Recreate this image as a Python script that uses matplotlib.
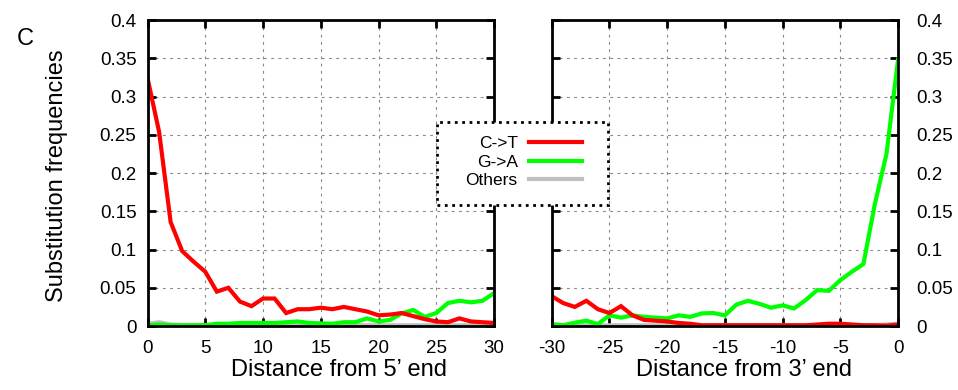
import matplotlib.pyplot as plt
from matplotlib.lines import Line2D
from matplotlib.patches import Rectangle

plt.rcParams['font.family'] = ['Liberation Sans', 'DejaVu Sans']
plt.rcParams['axes.unicode_minus'] = False

# posiciones desde el extremo 5' y 3'
pos5 = list(range(0, 31))
pos3 = list(range(-30, 1))

# frecuencias en el extremo 5'
ct_5 = [0.324, 0.254, 0.136, 0.098, 0.084, 0.071, 0.045, 0.050, 0.032, 0.026,
        0.036, 0.036, 0.017, 0.022, 0.022, 0.024, 0.022, 0.025, 0.022, 0.019,
        0.014, 0.015, 0.017, 0.013, 0.009, 0.006, 0.005, 0.010, 0.006, 0.005,
        0.004]
ga_5 = [0.001, 0.002, 0.001, 0.001, 0.001, 0.001, 0.003, 0.003, 0.004, 0.004,
        0.004, 0.004, 0.005, 0.006, 0.004, 0.0035, 0.003, 0.005, 0.005, 0.010,
        0.006, 0.008, 0.0165, 0.021, 0.012, 0.017, 0.030, 0.033, 0.031, 0.033,
        0.043]
ot_5 = [0.003, 0.005, 0.002, 0.001, 0.001, 0.001, 0.001, 0.001, 0.001, 0.001,
        0.001, 0.001, 0.001, 0.001, 0.001, 0.001, 0.001, 0.001, 0.001, 0.001,
        0.001, 0.001, 0.001, 0.001, 0.001, 0.001, 0.001, 0.001, 0.001, 0.001,
        0.001]

# frecuencias en el extremo 3'
ct_3 = [0.039, 0.030, 0.025, 0.033, 0.022, 0.017, 0.026, 0.014, 0.008, 0.007,
        0.006, 0.004, 0.003, 0.001, 0.001, 0.001, 0.001, 0.001, 0.001, 0.001,
        0.001, 0.001, 0.001, 0.002, 0.003, 0.003, 0.002, 0.001, 0.001, 0.0005,
        0.002]
ga_3 = [0.0026, 0.001, 0.0044, 0.007, 0.0026, 0.014, 0.011, 0.014, 0.012, 0.011,
        0.010, 0.014, 0.012, 0.0165, 0.017, 0.014, 0.028, 0.033, 0.029, 0.024,
        0.027, 0.023, 0.034, 0.047, 0.046, 0.060, 0.071, 0.081, 0.160, 0.225,
        0.348]
ot_3 = [0.001, 0.001, 0.001, 0.001, 0.001, 0.001, 0.001, 0.001, 0.001, 0.001,
        0.001, 0.001, 0.001, 0.001, 0.001, 0.001, 0.001, 0.001, 0.001, 0.001,
        0.001, 0.001, 0.001, 0.001, 0.001, 0.001, 0.001, 0.001, 0.001, 0.002,
        0.003]

etiquetas = ['C->T', 'G->A', 'Others']
colores = ['#ff0000', '#00ff00', '#c0c0c0']

fig = plt.figure(figsize=(9.58, 3.9), dpi=100)
ax1 = fig.add_axes([0.154, 0.164, 0.3617, 0.7846])
ax2 = fig.add_axes([0.5759, 0.164, 0.3615, 0.7846])

for ax, x, series in [(ax1, pos5, [ct_5, ga_5, ot_5]),
                      (ax2, pos3, [ct_3, ga_3, ot_3])]:
    for y, c in zip(series[::-1], colores[::-1]):
        ax.plot(x, y, color=c, lw=3, solid_joinstyle='miter')
    ax.set_ylim(0, 0.4)
    ax.set_yticks([0, 0.05, 0.1, 0.15, 0.2, 0.25, 0.3, 0.35, 0.4])
    ax.set_yticklabels(['0', '0.05', '0.1', '0.15', '0.2', '0.25', '0.3', '0.35', '0.4'])
    ax.grid(True, color='#888888', linestyle=(0, (2.5, 4)), lw=0.8)
    ax.tick_params(direction='in', length=6, width=2, top=True, right=True,
                   labelsize=13.5)
    ax.tick_params(axis='x', pad=10)
    for s in ax.spines.values():
        s.set_linewidth(2)

ax1.tick_params(axis='y', pad=8)
ax2.tick_params(axis='y', pad=13)

ax1.set_xlim(0, 30)
ax1.set_xticks(range(0, 31, 5))
ax1.set_xlabel("Distance from 5’ end", fontsize=17)
ax1.xaxis.set_label_coords(0.552, -0.108)
ax1.set_ylabel('Substitution frequencies', fontsize=17)
ax1.yaxis.set_label_coords(-0.229, 0.49)

ax2.set_xlim(-30, 0)
ax2.set_xticks(range(-30, 1, 5))
ax2.set_xlabel("Distance from 3’ end", fontsize=17)
ax2.xaxis.set_label_coords(0.555, -0.108)
ax2.tick_params(labelleft=False, labelright=True)

fig.text(0.018, 0.885, 'C', fontsize=17)

# marco punteado de la leyenda
marco = Rectangle((0.4562, 0.4744), 0.1785, 0.2128, transform=fig.transFigure,
                  facecolor='white', edgecolor='black', linestyle=':', lw=2, zorder=4)
fig.patches.append(marco)

handles = [Line2D([], [], color=c, lw=3) for c in colores]
leg = fig.legend(handles, etiquetas, loc='center', bbox_to_anchor=(0.547, 0.5846),
                 markerfirst=False, frameon=False, fontsize=12.5, handlelength=3.1,
                 labelspacing=0.2, borderpad=0, handletextpad=0.63, borderaxespad=0)
leg.set_zorder(5)
for t in leg.get_texts():
    t.set_ha('right')

fig.savefig('out.png', dpi=100)
